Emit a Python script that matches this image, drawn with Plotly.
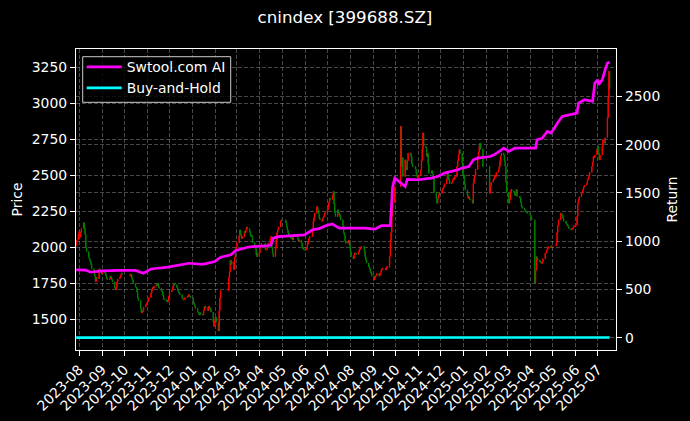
import pandas as pd
import plotly.graph_objects as go
from plotly.subplots import make_subplots

# ---------------- data ----------------
start_date = "2023-07-28"
end_date = "2025-07-17"
holidays = ['2023-09-29', '2023-10-02', '2023-10-03', '2023-10-04', '2023-10-05', '2023-10-06',
            '2024-01-01', '2024-02-09', '2024-02-12', '2024-02-13', '2024-02-14', '2024-02-15', '2024-02-16',
            '2024-04-04', '2024-04-05', '2024-05-01', '2024-05-02', '2024-05-03', '2024-06-10',
            '2024-09-16', '2024-09-17', '2024-10-01', '2024-10-02', '2024-10-03', '2024-10-04', '2024-10-07',
            '2025-01-01', '2025-01-28', '2025-01-29', '2025-01-30', '2025-01-31', '2025-02-03', '2025-02-04',
            '2025-04-04', '2025-05-01', '2025-05-02', '2025-05-05', '2025-06-02']

first_open = 2010
close = [
    2050,                                   # 2023-07-28
    2090, 2110, 2070, 2100, 2130,           # wk 07-31
    2170, 2130, 2090, 2000, 1970,           # wk 08-07
    1930, 1915, 1900, 1880, 1850,           # wk 08-14
    1840, 1800, 1760, 1790, 1780,           # wk 08-21
    1850, 1840, 1830, 1815, 1825,           # wk 08-28
    1840, 1820, 1805, 1785, 1775,           # wk 09-04
    1780, 1800, 1790, 1775, 1760,           # wk 09-11
    1720, 1705, 1725, 1760, 1780,           # wk 09-18
    1790, 1805, 1820, 1815,                 # wk 09-25
    1800, 1810, 1785, 1770, 1750,           # wk 10-09
    1725, 1720, 1690, 1650, 1630,           # wk 10-16
    1575, 1545, 1560, 1555, 1585,           # wk 10-23
    1600, 1610, 1620, 1635, 1650,           # wk 10-30
    1680, 1700, 1720, 1715, 1730,           # wk 11-06
    1740, 1735, 1750, 1725, 1715,           # wk 11-13
    1700, 1690, 1665, 1640, 1635,           # wk 11-20
    1625, 1620, 1635, 1660, 1690,           # wk 11-27
    1700, 1720, 1735, 1750, 1740,           # wk 12-04
    1720, 1700, 1690, 1680, 1670,           # wk 12-11
    1650, 1640, 1635, 1640, 1650,           # wk 12-18
    1655, 1665, 1670, 1660, 1650,           # wk 12-25
    1620, 1605, 1590, 1575,                 # wk 2024-01-01
    1550, 1545, 1530, 1545, 1535,           # wk 01-08
    1530, 1560, 1590, 1580, 1585,           # wk 01-15
    1560, 1590, 1580, 1570, 1550,           # wk 01-22
    1480, 1450, 1490, 1515, 1480,           # wk 01-29
    1420, 1560, 1650, 1700,                 # wk 02-05
    1790, 1830, 1910, 1880, 1900,           # wk 02-19
    1845, 1930, 1980, 2000, 2030,           # wk 02-26
    2080, 2120, 2090, 2060, 2075,           # wk 03-04
    2110, 2100, 2120, 2140, 2130,           # wk 03-11
    2110, 2090, 2075, 2080, 2030,           # wk 03-18
    2005, 1990, 1950, 1935, 1960,           # wk 03-25
    2000, 2015, 2027,                       # wk 04-01
    1990, 1980, 1985, 2010, 2030,           # wk 04-08
    2060, 2075, 2000, 1960, 1934,           # wk 04-15
    1990, 2050, 2100, 2120, 2140,           # wk 04-22
    2180, 2190,                             # wk 04-29
    2170, 2143, 2120, 2100, 2074,           # wk 05-06
    2060, 2070, 2050, 2080, 2090,           # wk 05-13
    2085, 2074, 2060, 2040, 2050,           # wk 05-20
    2030, 2004, 1990, 1985, 1981,           # wk 05-27
    1990, 2020, 2040, 2060, 2074,           # wk 06-03
    2120, 2180, 2210, 2236,                 # wk 06-10
    2282, 2260, 2230, 2200, 2190,           # wk 06-17
    2180, 2200, 2213, 2230, 2240,           # wk 06-24
    2259, 2280, 2310, 2340, 2330,           # wk 07-01
    2360, 2386, 2300, 2240, 2213,           # wk 07-08
    2259, 2240, 2230, 2210, 2190,           # wk 07-15
    2150, 2100, 2080, 2040, 2027,           # wk 07-22
    2040, 2050, 2010, 1970, 1934,           # wk 07-29
    1920, 1945, 1960, 1958, 1950,           # wk 08-05
    1965, 1981, 1990, 2000, 2004,           # wk 08-12
    2004, 1970, 1934, 1910, 1890,           # wk 08-19
    1865, 1850, 1830, 1818, 1800,           # wk 08-26
    1773, 1790, 1800, 1810, 1818,           # wk 09-02
    1800, 1818, 1830, 1845, 1855,           # wk 09-09
    1843, 1865, 1860,                       # wk 09-16
    1934, 2050, 2100, 2213, 2310,           # wk 09-23
    2420,                                   # wk 09-30
    2838, 2560, 2620, 2490,                 # wk 10-07
    2606, 2560, 2536, 2600, 2653,           # wk 10-14
    2653, 2630, 2580, 2560, 2560,           # wk 10-21
    2540, 2510, 2490, 2480, 2500,           # wk 10-28
    2536, 2600, 2680, 2793, 2700,           # wk 11-04
    2690, 2630, 2650, 2580, 2513,           # wk 11-11
    2513, 2530, 2510, 2490, 2380,           # wk 11-18
    2340, 2305, 2340, 2360, 2375,           # wk 11-25
    2375, 2400, 2410, 2421, 2440,           # wk 12-02
    2470, 2513, 2490, 2467, 2440,           # wk 12-09
    2450, 2467, 2480, 2470, 2490,           # wk 12-16
    2560, 2600, 2640, 2676, 2650,           # wk 12-23
    2580, 2500, 2440, 2398,                 # wk 12-30
    2360, 2340, 2350, 2330, 2328,           # wk 2025-01-06
    2305, 2444, 2480, 2500, 2540,           # wk 01-13
    2629, 2660, 2700, 2722, 2680,           # wk 01-20
    2560,                                   # wk 01-27
    2375, 2420, 2450,                       # wk 02-03
    2467, 2480, 2500, 2490, 2520,           # wk 02-10
    2540, 2560, 2600, 2630, 2653,           # wk 02-17
    2640, 2600, 2560, 2450, 2380,           # wk 02-24
    2305, 2330, 2375, 2400, 2390,           # wk 03-03
    2380, 2360, 2370, 2400, 2352,           # wk 03-10
    2352, 2340, 2310, 2282, 2270,           # wk 03-17
    2260, 2250, 2245, 2240, 2236,           # wk 03-24
    2236, 2220, 2200, 2190,                 # wk 03-31
    1750, 1840, 1934, 1920, 1910,           # wk 04-07
    1900, 1895, 1888, 1900, 1920,           # wk 04-14
    1958, 1960, 1980, 1990, 2004,           # wk 04-21
    1995, 2000, 2010,                       # wk 04-28
    2027, 2100, 2150, 2190,                 # wk 05-05
    2236, 2230, 2220, 2200, 2180,           # wk 05-12
    2166, 2160, 2150, 2140, 2130,           # wk 05-19
    2120, 2125, 2130, 2140, 2150,           # wk 05-26
    2213, 2305, 2330, 2350,                 # wk 06-02
    2375, 2380, 2400, 2420, 2430,           # wk 06-09
    2440, 2467, 2480, 2500, 2520,           # wk 06-16
    2560, 2590, 2629, 2620, 2640,           # wk 06-23
    2680, 2699, 2650, 2606, 2640,           # wk 06-30
    2700, 2745, 2730, 2722, 2760,           # wk 07-07
    2900, 3040, 3220, 3100,                 # wk 07-14
]

ai_dates = ['2023-07-28', '2023-08-10', '2023-08-16', '2023-09-01', '2023-09-25', '2023-10-16',
            '2023-10-27', '2023-11-06', '2023-11-29', '2023-12-13', '2023-12-27', '2024-01-15',
            '2024-01-31', '2024-02-08', '2024-02-22', '2024-02-28', '2024-03-15', '2024-03-22',
            '2024-04-10', '2024-04-16', '2024-04-19', '2024-04-26', '2024-05-31', '2024-06-11',
            '2024-06-20', '2024-07-02', '2024-07-08', '2024-07-17', '2024-08-20', '2024-09-03',
            '2024-09-12', '2024-09-24', '2024-09-25', '2024-09-26', '2024-09-27', '2024-09-30',
            '2024-10-08', '2024-10-14', '2024-10-17', '2024-11-01', '2024-11-18', '2024-11-27',
            '2024-12-06', '2024-12-16', '2024-12-24', '2024-12-30', '2025-01-08', '2025-01-14',
            '2025-01-20', '2025-02-06', '2025-02-11', '2025-02-18', '2025-02-24', '2025-03-03',
            '2025-03-11', '2025-03-20', '2025-03-31', '2025-04-08', '2025-04-10', '2025-04-17',
            '2025-04-24', '2025-04-29', '2025-05-09', '2025-05-14', '2025-05-23', '2025-06-03',
            '2025-06-05', '2025-06-13', '2025-06-24', '2025-06-27', '2025-07-01', '2025-07-02',
            '2025-07-07', '2025-07-09', '2025-07-11', '2025-07-14', '2025-07-17']
ai_return = [702, 700, 678, 692, 697, 697,
             668, 712, 730, 754, 771, 760,
             788, 834, 858, 902, 937, 944,
             950, 961, 1031, 1047, 1065, 1117,
             1130, 1169, 1176, 1134, 1134, 1124,
             1160, 1160, 1290, 1450, 1560, 1653,
             1600, 1566, 1640, 1636, 1653, 1670,
             1705, 1722, 1739, 1757, 1773, 1843,
             1860, 1877, 1895, 1929, 1964, 1929,
             1964, 1964, 1960, 1964, 2050, 2067,
             2136, 2120, 2240, 2292, 2309, 2327,
             2430, 2465, 2448, 2638, 2672, 2620,
             2672, 2742, 2776, 2845, 2855]

price_ticks = [1500, 1750, 2000, 2250, 2500, 2750, 3000, 3250]
return_ticks = [0, 500, 1000, 1500, 2000, 2500]

# ---------------- build ----------------
dates = pd.bdate_range(start_date, end_date)
dates = dates[~dates.isin(pd.to_datetime(holidays))]
if len(dates) != len(close):
    raise ValueError(f"dates {len(dates)} vs close {len(close)}")

opens = [first_open] + close[:-1]
highs = [max(o, c) for o, c in zip(opens, close)]
lows = [min(o, c) for o, c in zip(opens, close)]
buy_hold = [c / close[0] for c in close]

FONT = "DejaVu Sans"
GRID = "rgba(255,255,255,0.28)"

# plot area in pixels (for placing legend in paper coords)
W, H = 690, 421
ML, MR, MT, MB = 76, 74, 49, 71
PW, PH = W - ML - MR, H - MT - MB


def px_x(p):
    return (p - ML) / PW


def px_y(p):
    return 1 - (p - MT) / PH


fig = make_subplots(specs=[[{"secondary_y": True}]])
fig.add_trace(go.Candlestick(
    x=dates, open=opens, high=highs, low=lows, close=close,
    increasing=dict(line=dict(color="#ff0000", width=1), fillcolor="#ff0000"),
    decreasing=dict(line=dict(color="#008000", width=1), fillcolor="#008000"),
    whiskerwidth=0, showlegend=False, hoverinfo="skip"), secondary_y=False)
fig.add_trace(go.Scatter(x=ai_dates, y=ai_return, mode="lines", name="Swtool.com AI",
                         line=dict(color="#ff00ff", width=2.7), legend="legend"), secondary_y=True)
fig.add_trace(go.Scatter(x=dates, y=buy_hold, mode="lines", name="Buy-and-Hold",
                         line=dict(color="#00ffff", width=2.7), legend="legend2"), secondary_y=True)

leg_common = dict(xanchor="left", yanchor="middle", bgcolor="rgba(0,0,0,0)", borderwidth=0,
                  itemwidth=35, font=dict(family=FONT, size=13.9, color="white"))
fig.update_layout(
    width=W, height=H,
    margin=dict(l=ML, r=MR, t=MT, b=MB, autoexpand=False),
    paper_bgcolor="black", plot_bgcolor="black",
    font=dict(family=FONT, size=13.9, color="white"),
    title=dict(text="cnindex [399688.SZ]", x=0.5, xref="container", xanchor="center",
               y=0.96, yref="container", yanchor="middle",
               font=dict(family=FONT, size=16.7, color="white")),
    legend=dict(x=px_x(81.7), y=px_y(67.3), **leg_common),
    legend2=dict(x=px_x(81.7), y=px_y(88.3), **leg_common),
    showlegend=True,
    shapes=[dict(type="rect", xref="paper", yref="paper", layer="above",
                 x0=px_x(82.7), x1=px_x(230.7), y0=px_y(102.3), y1=px_y(56.7),
                 fillcolor="rgba(0,0,0,0.8)", line=dict(color="#cccccc", width=1))],
)
fig.update_xaxes(
    type="date", range=["2023-07-27 19:00", "2025-07-25 14:00"], domain=[0, 1],
    rangeslider=dict(visible=False),
    tickformat="%Y-%m", dtick="M1", tick0="2023-08-01", tickangle=-45,
    ticks="outside", ticklen=5, tickwidth=1, tickcolor="white",
    showline=True, linecolor="white", linewidth=1.2, mirror=True,
    showgrid=True, gridcolor=GRID, griddash="4px,2px", gridwidth=0.8,
    tickfont=dict(family=FONT, size=13.9, color="white"), zeroline=False,
)
fig.update_yaxes(
    range=[1287, 3375], tickvals=price_ticks, ticktext=[str(v) for v in price_ticks],
    ticks="outside", ticklen=5, tickwidth=1, tickcolor="white",
    showline=True, linecolor="white", linewidth=1.2, mirror=True,
    showgrid=True, gridcolor=GRID, griddash="4px,2px", gridwidth=0.8, zeroline=False,
    title=dict(text="Price", standoff=5, font=dict(family=FONT, size=13.9, color="white")),
    tickfont=dict(family=FONT, size=13.9, color="white"),
    secondary_y=False,
)
fig.update_yaxes(
    range=[-128, 2991], tickvals=return_ticks, ticktext=[str(v) for v in return_ticks],
    ticks="outside", ticklen=5, tickwidth=1, tickcolor="white",
    showline=True, linecolor="white", linewidth=1.2,
    showgrid=True, gridcolor=GRID, griddash="4px,2px", gridwidth=0.8, zeroline=False,
    title=dict(text="Return", standoff=8, font=dict(family=FONT, size=13.9, color="white")),
    tickfont=dict(family=FONT, size=13.9, color="white"),
    secondary_y=True,
)

fig.write_html("out.html", config={"displayModeBar": False},
               post_script="document.body.style.margin='0px';document.body.style.background='black';")
